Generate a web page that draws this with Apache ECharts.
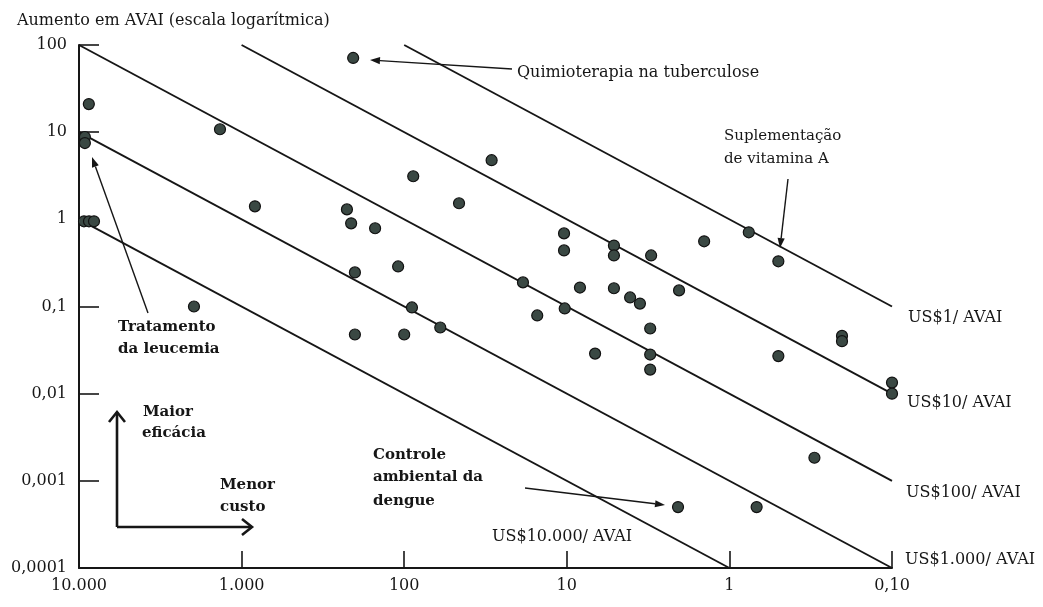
<!DOCTYPE html>
<html><head><meta charset="utf-8">
<script src="https://cdn.jsdelivr.net/npm/echarts@6/dist/echarts.min.js"></script>
<style>html,body{margin:0;padding:0;background:#fff}#c{width:1043px;height:607px}</style>
</head><body><div id="c"></div>
<script>
// ---- data ----
const xTickLabels = ['0,10', '1', '10', '100', '1.000', '10.000'];        // log10(value)+1
const yTickLabels = ['0,0001', '0,001', '0,01', '0,1', '1', '10', '100'];   // log10(value)+4

// cost (US$) and gain in DALYs (AVAI) for each intervention
const costValues = [206, 8700, 9200, 9200, 1358, 9316, 8680, 8087, 828, 1963,
  225, 212, 151, 201, 201, 109, 88, 29, 46, 10.4,
  10.4, 5.13, 5.13, 3.03, 1.43, 0.76, 0.50, 18.6, 8.3, 5.13,
  4.08, 3.55, 2.04, 89.6, 15.2, 10.3, 60, 100, 6.7, 3.07,
  3.07, 3.07, 0.5, 0.203, 0.203, 0.1, 0.1, 0.30, 2.07, 0.68];
const dalyValues = [71, 21, 8.8, 7.5, 10.8, 0.95, 0.95, 0.95, 1.41, 0.1,
  1.30, 0.90, 0.79, 0.246, 0.0477, 0.288, 3.12, 4.77, 1.53, 0.69,
  0.44, 0.50, 0.385, 0.385, 0.56, 0.71, 0.33, 0.189, 0.165, 0.162,
  0.127, 0.108, 0.153, 0.0975, 0.0789, 0.095, 0.0574, 0.0477, 0.0288, 0.0559,
  0.0281, 0.0189, 0.027, 0.046, 0.040, 0.0134, 0.010, 0.00184, 0.0005, 0.0005];

// iso cost-per-DALY lines
const isoLabels = ['US$1/ AVAI', 'US$10/ AVAI', 'US$100/ AVAI', 'US$1.000/ AVAI', 'US$10.000/ AVAI'];
const isoStart = [[100, 100], [1000, 100], [10000, 100], [10000, 10], [10000, 1]];
const isoEnd = [[0.1, 0.1], [0.1, 0.01], [0.1, 0.001], [0.1, 0.0001], [1, 0.0001]];

// ---- chart ----
const FONT = '"DejaVu Serif", serif';
const INK = '#161616';
const chart = echarts.init(document.getElementById('c'), null, {renderer: 'canvas'});

const points = costValues.map((c, i) => [c, dalyValues[i]]);
const isoSeries = isoLabels.map((name, i) => ({
  name, type: 'line', data: [isoStart[i], isoEnd[i]], symbol: 'none', silent: true,
  lineStyle: {color: INK, width: 1.9}, z: 2
}));

function arrow(x1, y1, x2, y2) {
  const a = Math.atan2(y2 - y1, x2 - x1), L = 10, W = 3.6;
  const bx = x2 - L * Math.cos(a), by = y2 - L * Math.sin(a);
  const nx = -Math.sin(a), ny = Math.cos(a);
  return [
    {type: 'line', shape: {x1, y1, x2: bx, y2: by}, style: {stroke: INK, lineWidth: 1.4}},
    {type: 'polygon', shape: {points: [[x2, y2], [bx + W * nx, by + W * ny], [bx - W * nx, by - W * ny]]}, style: {fill: INK}}
  ];
}
function txt(x, y, text, size, bold) {
  return {type: 'text', x, y, style: {text, font: (bold ? 'bold ' : '') + size + 'px ' + FONT, fill: INK, align: 'left', verticalAlign: 'middle'}};
}

const graphics = [].concat(
  arrow(512, 69, 370, 60),
  arrow(788, 179, 780, 248),
  arrow(148, 313, 92, 157),
  arrow(525, 488, 665, 505),
  [
    {type: 'polyline', shape: {points: [[117, 527], [117, 412]]}, style: {stroke: INK, lineWidth: 2.6, fill: null}},
    {type: 'polyline', shape: {points: [[109, 422], [117, 412], [125, 422]]}, style: {stroke: INK, lineWidth: 2.6, fill: null}},
    {type: 'polyline', shape: {points: [[117, 527], [252, 527]]}, style: {stroke: INK, lineWidth: 2.6, fill: null}},
    {type: 'polyline', shape: {points: [[242, 519], [252, 527], [242, 535]]}, style: {stroke: INK, lineWidth: 2.6, fill: null}},
    txt(517, 73, 'Quimioterapia na tuberculose', 16),
    txt(724, 136, 'Suplementação', 15),
    txt(724, 159, 'de vitamina A', 15),
    txt(118, 327, 'Tratamento', 15, true),
    txt(118, 349, 'da leucemia', 15, true),
    txt(143, 412, 'Maior', 15, true),
    txt(142, 433, 'eficácia', 15, true),
    txt(220, 485, 'Menor', 15, true),
    txt(220, 507, 'custo', 15, true),
    txt(373, 455, 'Controle', 15, true),
    txt(373, 477, 'ambiental da', 15, true),
    txt(373, 501, 'dengue', 15, true),
    txt(492, 537, isoLabels[4], 16),
    txt(908, 318, isoLabels[0], 16),
    txt(907, 403, isoLabels[1], 16),
    txt(906, 493, isoLabels[2], 16),
    txt(905, 560, isoLabels[3], 16)
  ]
);

chart.setOption({
  animation: false,
  backgroundColor: '#ffffff',
  title: {text: 'Aumento em AVAI (escala logarítmica)', left: 12, top: 8,
    textStyle: {fontFamily: FONT, fontSize: 16, fontWeight: 'normal', color: INK}},
  grid: {left: 79, right: 151, top: 45, bottom: 39, containLabel: false},
  xAxis: {
    type: 'log', logBase: 10, min: 0.1, max: 10000, inverse: true,
    axisLine: {show: true, onZero: false, lineStyle: {color: INK, width: 2}},
    axisTick: {show: true, inside: true, length: 17, lineStyle: {color: INK, width: 1.6}},
    splitLine: {show: false}, minorTick: {show: false},
    axisLabel: {margin: 10, fontFamily: FONT, fontSize: 16, color: INK,
      formatter: v => xTickLabels[Math.round(Math.log10(v)) + 1] || ''}
  },
  yAxis: {
    type: 'log', logBase: 10, min: 0.0001, max: 100,
    axisLine: {show: true, onZero: false, lineStyle: {color: INK, width: 2}},
    axisTick: {show: true, inside: true, length: 20, lineStyle: {color: INK, width: 1.6}},
    splitLine: {show: false},
    axisLabel: {margin: 12, fontFamily: FONT, fontSize: 16, color: INK,
      formatter: v => yTickLabels[Math.round(Math.log10(v)) + 4] || ''}
  },
  series: isoSeries.concat([{
    name: 'Intervenções', type: 'scatter', data: points, symbolSize: 11, clip: false,
    itemStyle: {color: '#3a4843', borderColor: '#111', borderWidth: 1.2, opacity: 1}, z: 5
  }]),
  graphic: graphics
});
</script>
</body></html>
